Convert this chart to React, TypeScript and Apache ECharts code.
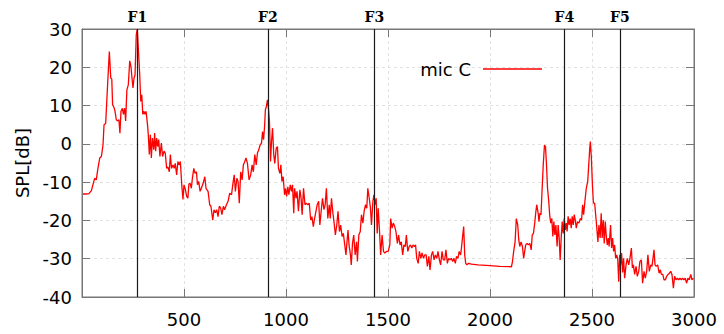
import React, { useEffect, useRef } from 'react';
import * as echarts from 'echarts';

// [frequency Hz, SPL dB]
const bandLow: [number, number][] = [[5,-13.1],[20,-13.1],[34,-13],[46,-12.2],[62,-9],[70,-9.4],[78,-6.4],[87,-3.7],[95,-3.3],[103,-0.3],[108,5],[116,5.3],[123,12.8],[128,18],[134,24.1],[141,17.2],[146,16.9],[150,10.2],[157,9.5],[162,8.5],[168,6.3],[175,6],[181,6.3],[186,2.8],[191,8.5],[198,9.3],[203,7.7],[209,9.3],[214,6],[220,14.1],[227,15.4],[234,21.7],[240,20.2],[245,17.2],[250,14.6],[255,17.2],[260,18],[266,28.5],[271,30],[277,24],[283,18],[288,11.1],[293,12.8],[298,7.7],[303,8.5],[309,7.7],[314,8.5],[321,5.1],[325,2.4],[330,-2.8],[335,2.4],[340,-3.7],[345,1.5],[352,-1.5],[356,2.8],[361,-1.9],[366,1.5],[371,-0.7],[376,1.1],[382,-3.3],[389,0.2],[395,-3.3],[402,-1.9],[408,-2.4],[415,-6.4],[421,-6],[428,-7.3],[433,-2.8],[439,-6.4],[446,-5.5],[452,-6.4],[457,-5.1],[464,-8.1],[470,-4.6],[475,-5.5],[482,-4.6],[489,-10.7],[495,-14.5],[500,-10.7],[507,-12],[513,-13.7],[519,-14.2],[524,-10.5],[530,-10.3],[536,-11.6],[541,-9],[548,-6.4],[554,-7.7],[561,-7.3],[566,-10.7],[572,-9.8],[579,-12.4],[585,-11.6],[594,-10.3],[602,-8.6],[608,-11.6],[618,-12.4],[626,-15.9],[632,-16.3],[641,-19.9],[647,-17.2],[654,-18],[660,-17.2],[667,-19],[673,-16.3],[680,-16.8],[686,-18.5],[693,-16.3],[699,-17.2],[708,-15.9],[716,-15],[724,-12.9],[733,-13.3],[739,-10.7],[746,-8.1],[752,-12.4],[759,-9],[765,-9.8],[771,-15.5],[778,-7.3],[785,-9.4],[791,-5.5],[798,-4.6],[804,-3.7],[811,-5.1],[819,-9.4],[827,-8.1],[834,-5.5],[840,-7.3],[847,-2.8],[854,-5.5],[860,-2.4],[867,-1.5],[873,-0.3],[880,0.2],[885,3.2],[890,1.1],[895,4.5],[899,8.9],[904,9.8],[909,11.5],[914,9.3],[919,5.8],[924,-4.6],[929,0.6],[934,4.1],[940,-2.8],[945,-5.1],[952,-1.1],[958,-0.7],[963,-6.4],[970,-7.7],[975,-5.5],[980,-9.8],[986,-8.6],[993,-13.3],[998,-11.6]];

const bandMid: [number, number][] = [[1003,-13.7],[1009,-11.2],[1014,-13.3],[1021,-10.7],[1027,-12.4],[1032,-10.7],[1038,-18.1],[1042,-11.6],[1049,-14.2],[1054,-12.4],[1061,-17.6],[1068,-12],[1074,-14.2],[1079,-18.5],[1086,-11.6],[1093,-15.9],[1099,-15.5],[1107,-15.9],[1114,-15.5],[1121,-19.9],[1127,-19],[1134,-21.6],[1140,-19.5],[1147,-17.6],[1153,-15.9],[1160,-15],[1166,-21.2],[1173,-17.2],[1179,-14.2],[1186,-17.2],[1192,-15.9],[1198,-11.6],[1205,-19.5],[1212,-15.9],[1217,-19.5],[1223,-14.2],[1230,-18.1],[1236,-20.7],[1242,-23.8],[1249,-21.2],[1255,-17.6],[1262,-22.9],[1268,-21.2],[1275,-24.2],[1281,-23.4],[1288,-26.4],[1294,-29],[1299,-25.6],[1304,-22.5],[1309,-26.4],[1316,-29],[1320,-31.6],[1326,-26],[1332,-23.8],[1339,-29],[1346,-25.6],[1350,-30.7],[1357,-23.8],[1364,-22.9],[1370,-18.5],[1377,-20.7],[1383,-17.6],[1390,-15.9],[1396,-16.8],[1401,-11.6],[1408,-14.2],[1414,-16.8],[1419,-21.2],[1426,-15],[1431,-13.3],[1437,-15.9],[1442,-14.2],[1447,-23.4],[1452,-16.8],[1459,-23.4],[1464,-29],[1471,-23.8],[1478,-28.1],[1484,-28.5],[1493,-28.1],[1501,-28.1],[1509,-26.4],[1513,-19.5],[1520,-22],[1526,-20.7],[1533,-21.6],[1539,-22.9],[1546,-26],[1552,-23.8],[1559,-26.4],[1565,-25.6],[1572,-29],[1578,-26.4],[1585,-26.8],[1590,-23.8],[1597,-28.1],[1604,-26.8],[1610,-26.4],[1617,-27.2],[1623,-26.4],[1630,-26.8],[1635,-26.4],[1641,-29.9],[1648,-31.2],[1654,-28.1],[1661,-29.9],[1667,-28.5],[1674,-29.9],[1680,-29],[1687,-29],[1693,-32],[1700,-29.4],[1706,-32.9],[1713,-29],[1719,-28.1],[1726,-30.3],[1732,-29],[1739,-29.9],[1745,-28.1],[1752,-30.3],[1758,-31.6],[1765,-28.1],[1771,-30.3],[1778,-30.3],[1784,-27.7],[1791,-31.2],[1797,-29.9],[1804,-30.3],[1810,-29.9],[1817,-30.7],[1823,-29.9],[1830,-31.2],[1836,-29.4],[1843,-29.9],[1849,-28.1],[1856,-29],[1860,-27.2],[1865,-24.6],[1871,-21.6],[1876,-29],[1881,-31.2],[1887,-31.6],[1895,-31.2],[1909,-31.4],[1941,-31.6],[2000,-31.8],[2048,-32],[2105,-32.1]];

const bandHigh: [number, number][] = [[2110,-30.8],[2116,-28.1],[2123,-25.6],[2129,-19.5],[2136,-21.2],[2141,-25.1],[2146,-26.8],[2152,-25.6],[2159,-26.8],[2165,-29.9],[2170,-28.1],[2175,-26.4],[2182,-26],[2188,-26.4],[2195,-26],[2202,-27.7],[2207,-23.8],[2213,-23.4],[2220,-20.3],[2225,-17.6],[2229,-15.9],[2236,-18.1],[2240,-20.3],[2245,-18.1],[2250,-18.5],[2255,-12.4],[2261,-5.5],[2267,-0.3],[2272,-0.7],[2277,-5.5],[2282,-11.6],[2288,-15],[2293,-18.9],[2298,-20.7],[2303,-19.5],[2308,-24.2],[2313,-20.3],[2318,-23.8],[2323,-21.2],[2329,-26.8],[2334,-21.2],[2339,-24.6],[2344,-30.3],[2349,-24.6],[2354,-20.3],[2359,-23.4],[2364,-19.5],[2369,-22.5],[2374,-20.7],[2378,-22.9],[2383,-18.9],[2388,-21.2],[2393,-19.5],[2398,-22],[2403,-18.9],[2408,-21.2],[2413,-18.5],[2418,-19.9],[2423,-22],[2429,-20.3],[2436,-20.7],[2443,-19.5],[2449,-19.9],[2454,-15.9],[2459,-18.5],[2466,-14.6],[2472,-11.6],[2479,-9.8],[2484,-5.5],[2489,-1.1],[2492,0.6],[2497,-3.7],[2502,-10.7],[2507,-15.5],[2513,-15.5],[2521,-20.3],[2529,-25.6],[2534,-21.2],[2540,-24.6],[2545,-18.1],[2550,-24.6],[2555,-19.9],[2560,-26],[2565,-20.3],[2570,-24.2],[2575,-26.4],[2580,-24.6],[2584,-26.8],[2591,-21.2],[2596,-27.2],[2601,-24.6],[2606,-28.1],[2611,-26.4],[2616,-29.9],[2621,-29],[2626,-29.9],[2631,-36],[2636,-29],[2640,-31.6],[2645,-28.5],[2650,-33.6],[2655,-29.9],[2660,-35.1],[2667,-31.6],[2673,-29.9],[2680,-31.6],[2686,-29.9],[2693,-27.2],[2698,-32.4],[2703,-31.6],[2709,-34.1],[2716,-32],[2722,-34.6],[2729,-33.3],[2735,-30.7],[2742,-30.3],[2748,-36.4],[2755,-33.3],[2761,-35.1],[2768,-33.3],[2774,-29],[2781,-33.3],[2788,-31.6],[2794,-32],[2801,-29],[2804,-27.7],[2809,-31.6],[2815,-32],[2822,-31.6],[2829,-33.8],[2835,-32.9],[2840,-34.1],[2847,-34.1],[2853,-35.5],[2860,-35.5],[2866,-34.6],[2873,-34.1],[2879,-33.8],[2886,-33.3],[2892,-34.1],[2899,-37.7],[2905,-34.6],[2912,-35.5],[2918,-35.1],[2925,-35.5],[2931,-35.1],[2938,-35.5],[2944,-35.1],[2951,-35.5],[2957,-35.1],[2964,-36.4],[2970,-35.1],[2977,-35.5],[2984,-34.1],[2990,-35.5],[2997,-35.1]];

const formantNames = ['F1', 'F2', 'F3', 'F4', 'F5'];
const formantFreqs = [271, 911, 1433, 2365, 2637];
const seriesName = 'mic C';

const AXIS_GRAY = '#777777';

export default function App() {
  const ref = useRef<HTMLDivElement>(null);
  useEffect(() => {
    document.body.style.margin = '0';
    const chart = echarts.init(ref.current!, null, { renderer: 'svg' });
    const data = [...bandLow, ...bandMid, ...bandHigh];
    const tickFont = { fontFamily: 'DejaVu Sans', fontSize: 18, color: '#000' };
    const edge = {
      axisLine: { show: true, onZero: false, lineStyle: { color: AXIS_GRAY } },
      axisTick: { show: true, inside: true, length: 8, lineStyle: { color: AXIS_GRAY } },
    };
    chart.setOption({
      animation: false,
      backgroundColor: '#fff',
      grid: { left: 82, right: 30, top: 29, bottom: 37, show: true, borderColor: AXIS_GRAY, borderWidth: 1 },
      legend: {
        data: [seriesName],
        right: 177,
        top: 55,
        align: 'right',
        icon: 'rect',
        itemWidth: 59,
        itemHeight: 1.5,
        textStyle: { ...tickFont, padding: [0, 7, 0, 0] },
      },
      xAxis: [
        {
          type: 'value', min: 0, max: 3000, interval: 500,
          ...edge,
          axisLabel: { ...tickFont, margin: 13, formatter: (v: number) => (v === 0 ? '' : String(v)) },
          splitLine: { show: true, lineStyle: { color: '#e2e2e2', type: [3, 3] } },
        },
        {
          type: 'value', min: 0, max: 3000, interval: 500, position: 'top',
          ...edge,
          axisLabel: { show: false },
          splitLine: { show: false },
        },
      ],
      yAxis: [
        {
          type: 'value', min: -40, max: 30, interval: 10,
          name: 'SPL[dB]', nameLocation: 'middle', nameGap: 50,
          nameTextStyle: { ...tickFont },
          ...edge,
          axisLabel: { ...tickFont, margin: 10 },
          splitLine: { show: true, lineStyle: { color: '#e2e2e2', type: [3, 3] } },
        },
        {
          type: 'value', min: -40, max: 30, interval: 10, position: 'right',
          ...edge,
          axisLabel: { show: false },
          splitLine: { show: false },
        },
      ],
      series: [
        {
          name: seriesName,
          type: 'line',
          data,
          color: '#ff0000',
          symbol: 'none',
          showSymbol: false,
          lineStyle: { color: '#ff0000', width: 1.3 },
          markLine: {
            silent: true,
            symbol: ['none', 'none'],
            lineStyle: { color: '#1a1a1a', width: 1.2, type: 'solid' },
            label: {
              show: true,
              position: 'end',
              formatter: '{b}',
              fontFamily: 'DejaVu Serif',
              fontWeight: 'bold',
              fontSize: 14,
              color: '#000',
              distance: 5,
            },
            data: formantNames.map((n, i) => ({ name: n, xAxis: formantFreqs[i] })),
          },
        },
      ],
    });
    return () => chart.dispose();
  }, []);
  return <div ref={ref} style={{ width: 724, height: 334 }} />;
}
